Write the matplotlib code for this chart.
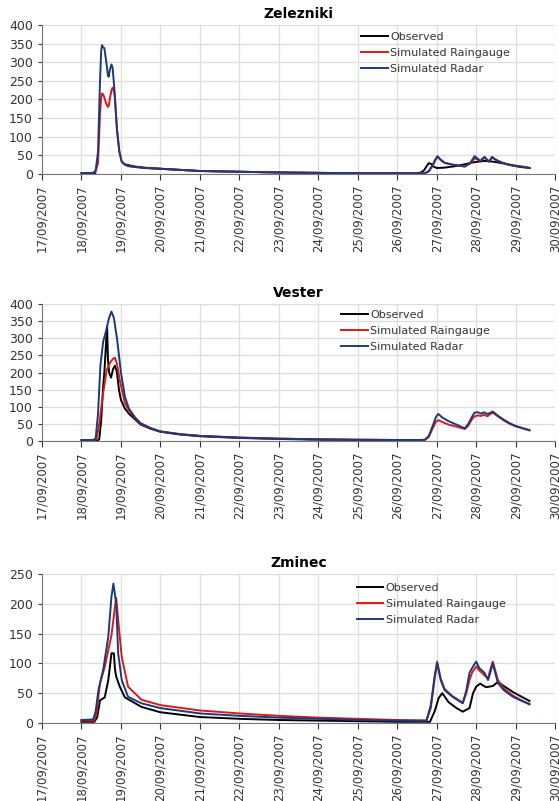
import matplotlib
matplotlib.use("Agg")
import matplotlib.pyplot as plt
import numpy as np

# x values are days since 17/09/2007 00:00
DATE_LABELS = [f"{d}/09/2007" for d in range(17, 31)]
SERIES_NAMES = ["Observed", "Simulated Raingauge", "Simulated Radar"]

# --- Zelezniki ---
ZEL_T_SIM = [1.0, 1.3, 1.36, 1.42, 1.47, 1.50, 1.52, 1.55, 1.58, 1.63, 1.67, 1.69, 1.72, 1.76,
             1.79, 1.84, 1.9, 1.96, 2.02, 2.1, 2.2, 2.35, 2.6, 3.0, 3.5, 4.0, 5.0, 6.0, 7.0, 8.0,
             9.0, 9.7, 9.8, 9.9, 9.96, 10.02, 10.1, 10.2, 10.4, 10.6, 10.71, 10.85, 10.96, 11.05,
             11.1, 11.15, 11.21, 11.28, 11.33, 11.40, 11.5, 11.64, 11.8, 12.0, 12.2, 12.36]
ZEL_RADAR = [2, 3, 10, 60, 250, 330, 346, 340, 338, 300, 265, 261, 280, 294,
             285, 220, 118, 60, 33, 25, 21, 19, 16, 14, 11, 8, 6, 4, 3, 2,
             2, 2, 8, 25, 38, 48, 38, 30, 25, 22, 20, 30, 48, 40,
             35, 40, 46, 38, 33, 46, 38, 31, 26, 22, 19, 16]
ZEL_RAIN = [2, 3, 6, 30, 160, 205, 216, 214, 205, 188, 180, 183, 202, 225,
            232, 215, 120, 60, 33, 25, 21, 19, 16, 14, 11, 8, 6, 4, 3, 2,
            2, 2, 7, 22, 36, 46, 38, 30, 25, 22, 20, 28, 42, 38,
            34, 38, 44, 38, 33, 44, 38, 31, 26, 22, 19, 16]
ZEL_T_OBS = [1.0, 1.3, 1.35, 1.7, 2.1, 2.35, 2.6, 3.0, 3.5, 4.0, 5.0, 6.0, 7.0, 8.0, 9.0, 9.5,
             9.6, 9.68, 9.75, 9.8, 9.86, 9.92, 10.0, 10.2, 10.4, 10.58, 10.75, 10.91, 11.05,
             11.2, 11.35, 11.5, 11.7, 11.9, 12.1, 12.36]
ZEL_OBS = [1, 1, 1, np.nan, 26, 20, 17, 14, 11, 8, 6, 4, 3, 2, 2, 2,
           4, 10, 22, 29, 27, 20, 16, 17, 20, 23, 27, 31, 33,
           35, 34, 32, 28, 23, 19, 16]

# --- Vester ---
VES_T_RADAR = [1.0, 1.3, 1.36, 1.42, 1.48, 1.55, 1.62, 1.7, 1.76, 1.82, 1.9, 2.0, 2.1, 2.2, 2.35,
               2.5, 2.75, 3.0, 3.5, 4.0, 5.0, 6.0, 7.0, 8.0, 9.0, 9.6, 9.7, 9.8, 9.9, 9.98, 10.04,
               10.15, 10.3, 10.5, 10.71, 10.8, 10.9, 10.96, 11.05, 11.12, 11.2, 11.28, 11.35,
               11.42, 11.55, 11.7, 11.85, 12.0, 12.2, 12.35]
VES_RADAR = [3, 3, 8, 80, 220, 290, 320, 360, 378, 360, 300, 200, 130, 95, 70,
             52, 38, 28, 20, 15, 10, 7, 5, 4, 3, 3, 4, 15, 45, 70, 79,
             68, 58, 48, 37, 50, 72, 83, 84, 80, 84, 79, 82,
             86, 74, 62, 52, 44, 37, 32]
VES_T_RAIN = [1.0, 1.3, 1.38, 1.45, 1.55, 1.64, 1.72, 1.8, 1.85, 1.9, 1.97, 2.1, 2.2, 2.35, 2.5,
              2.75, 3.0, 3.5, 4.0, 5.0, 6.0, 7.0, 8.0, 9.0, 9.6, 9.7, 9.8, 9.9, 9.98, 10.04,
              10.15, 10.3, 10.5, 10.71, 10.8, 10.9, 10.96, 11.05, 11.12, 11.2, 11.28, 11.35,
              11.42, 11.55, 11.7, 11.85, 12.0, 12.2, 12.35]
VES_RAIN = [2, 2, 5, 50, 140, 207, 228, 240, 243, 225, 178, 111, 90, 68, 50,
            37, 28, 20, 15, 10, 7, 5, 4, 3, 3, 3, 12, 38, 56, 61,
            55, 48, 42, 35, 45, 65, 72, 75, 73, 77, 72, 78,
            83, 72, 60, 50, 43, 36, 31]
VES_T_OBS = [1.0, 1.4, 1.45, 1.5, 1.55, 1.58, 1.6, 1.63, 1.65, 1.67, 1.7, 1.75, 1.8, 1.85, 1.9,
             1.95, 2.0, 2.1, 2.2, 2.35, 2.5, 2.75, 3.0, 3.5, 4.0, 5.0, 6.0, 7.0, 8.0, 9.0, 9.5]
VES_OBS = [1, 1, 5, 60, 160, 200, 240, 300, 334, 240, 200, 185, 210, 220, 200,
           150, 120, 95, 80, 64, 48, 36, 27, 19, 14, 9, 6, 4, 3, 2, 2]

# --- Zminec ---
ZMI_T_RADAR = [1.0, 1.3, 1.36, 1.43, 1.55, 1.68, 1.76, 1.81, 1.88, 1.93, 2.02, 2.18, 2.52, 3.0,
               4.0, 5.0, 6.0, 7.0, 8.0, 9.0, 9.74, 9.85, 9.95, 10.01, 10.1, 10.2, 10.4, 10.66,
               10.75, 10.83, 10.92, 11.0, 11.08, 11.15, 11.21, 11.3, 11.36, 11.42, 11.55, 11.7,
               11.93, 12.15, 12.35]
ZMI_RADAR = [5, 6, 20, 55, 89, 145, 212, 234, 200, 117, 72, 44, 33, 25,
             16, 12, 9, 7, 5, 4, 4, 30, 80, 100, 72, 55, 44, 33,
             55, 84, 95, 103, 92, 88, 84, 72, 85, 100, 67, 55,
             44, 37, 32]
ZMI_T_RAIN = [1.0, 1.32, 1.38, 1.47, 1.59, 1.76, 1.84, 1.88, 1.93, 2.02, 2.18, 2.52, 3.0, 4.0,
              5.0, 6.0, 7.0, 8.0, 9.0, 9.74, 9.85, 9.95, 10.01, 10.1, 10.2, 10.4, 10.66, 10.75,
              10.83, 10.9, 11.0, 11.08, 11.15, 11.21, 11.3, 11.36, 11.42, 11.55, 11.7, 11.93,
              12.15, 12.35]
ZMI_RAIN = [4, 4, 15, 67, 94, 147, 190, 210, 173, 111, 61, 39, 30, 21,
            16, 12, 9, 7, 5, 4, 25, 75, 103, 75, 57, 45, 34, 50,
            72, 85, 95, 88, 84, 80, 75, 90, 103, 72, 58, 46,
            38, 31]
ZMI_T_OBS = [1.0, 1.33, 1.4, 1.47, 1.59, 1.68, 1.73, 1.76, 1.82, 1.85, 1.88, 1.97, 2.1, 2.52,
             3.0, 4.0, 5.0, 6.0, 7.0, 8.0, 9.0, 9.83, 9.95, 10.05, 10.14, 10.3, 10.5, 10.66,
             10.83, 10.92, 11.0, 11.1, 11.25, 11.42, 11.55, 11.7, 11.93, 12.15, 12.35]
ZMI_OBS = [2, 2, 10, 38, 43, 72, 100, 117, 117, 90, 78, 61, 43, 27,
           18, 10, 7, 5, 4, 3, 2, 2, 20, 42, 50, 35, 25, 19,
           25, 50, 61, 66, 60, 62, 69, 62, 52, 44, 37]

COLORS = ["#000000", "#DA1A1A", "#1B3A7A"]

panels = [
    dict(title="Zelezniki", ymax=400, rect=[0.0751, 0.7828, 0.918, 0.186],
         legend=(0.646, 0.960),
         obs=(ZEL_T_OBS, ZEL_OBS), rain=(ZEL_T_SIM, ZEL_RAIN), radar=(ZEL_T_SIM, ZEL_RADAR)),
    dict(title="Vester", ymax=400, rect=[0.0751, 0.4494, 0.918, 0.1711],
         legend=(0.610, 0.613),
         obs=(VES_T_OBS, VES_OBS), rain=(VES_T_RAIN, VES_RAIN), radar=(VES_T_RADAR, VES_RADAR)),
    dict(title="Zminec", ymax=250, rect=[0.0751, 0.0974, 0.918, 0.186],
         legend=(0.638, 0.272),
         obs=(ZMI_T_OBS, ZMI_OBS), rain=(ZMI_T_RAIN, ZMI_RAIN), radar=(ZMI_T_RADAR, ZMI_RADAR)),
]

fig = plt.figure(figsize=(5.59, 8.01), dpi=100)

for p in panels:
    ax = fig.add_axes(p["rect"])
    handles = []
    for key, name, col in zip(["obs", "rain", "radar"], SERIES_NAMES, COLORS):
        t, v = p[key]
        h, = ax.plot(t, v, color=col, linewidth=1.4, label=name)
        handles.append(h)

    ax.set_xlim(0, 13)
    ax.set_ylim(0, p["ymax"])
    ax.set_xticks(np.arange(14))
    ax.set_xticklabels(DATE_LABELS, rotation=90, fontsize=8.5, color="#333333")
    ax.set_yticks(np.arange(0, p["ymax"] + 1, 50))
    ax.tick_params(axis="y", labelsize=9, colors="#333333", length=3)
    ax.tick_params(axis="x", length=4, colors="#333333")
    ax.grid(True, color="#DDDDDD", linewidth=0.9)
    ax.set_axisbelow(True)
    for s in ["top", "right"]:
        ax.spines[s].set_visible(False)
    for s in ["left", "bottom"]:
        ax.spines[s].set_color("#777777")
    ax.set_title(p["title"], fontsize=10, fontweight="bold", pad=5)

    fig.legend(handles=handles, loc="upper left", bbox_to_anchor=p["legend"],
               frameon=False, fontsize=8, handlelength=2.4, handletextpad=0.2,
               labelspacing=0.55, borderaxespad=0, borderpad=0,
               labelcolor="#333333")

fig.savefig("out.png", dpi=100)
